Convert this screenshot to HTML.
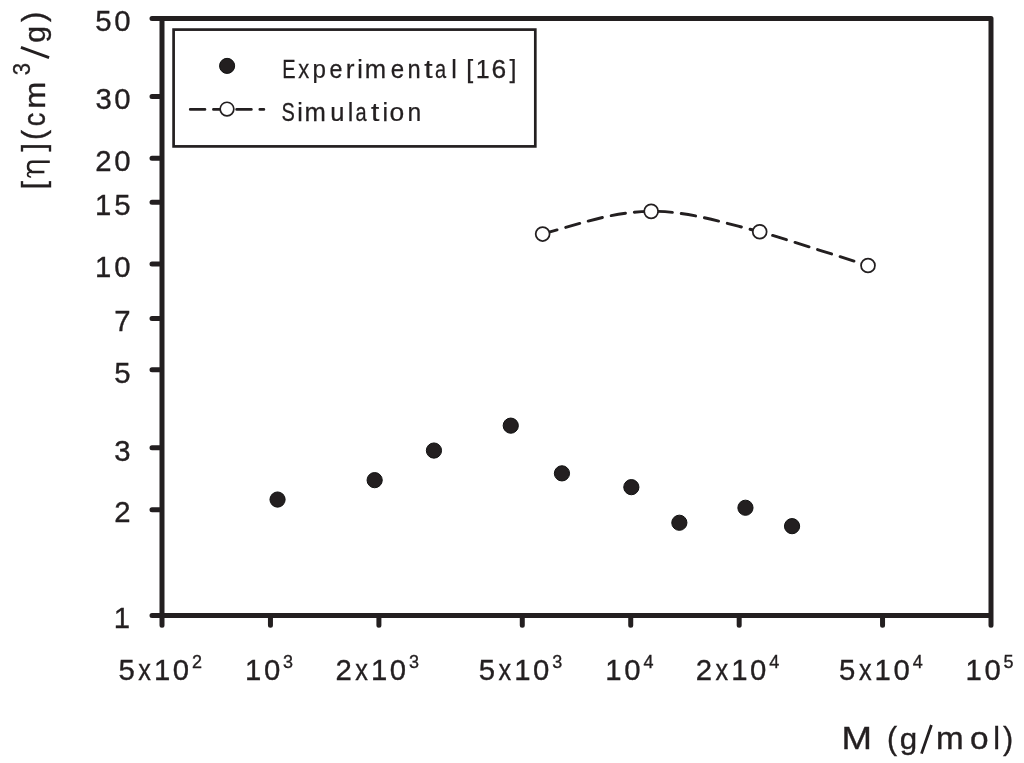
<!DOCTYPE html>
<html><head><meta charset="utf-8"><title>chart</title>
<style>
html,body{margin:0;padding:0;background:#fff;}
body{width:1024px;height:763px;overflow:hidden;}
svg{display:block;will-change:transform;}
text{font-family:"Liberation Sans", sans-serif;fill:#231f20;}
</style></head><body>
<svg width="1024" height="763" viewBox="0 0 1024 763">
<rect width="1024" height="763" fill="#fff"/>
<path d="M162.00 18.50 H991.00 V615.40 H162.00 Z M152.00 18.50 H162.00 M152.00 96.44 H162.00 M152.00 158.31 H162.00 M152.00 202.20 H162.00 M152.00 264.07 H162.00 M152.00 318.49 H162.00 M152.00 369.83 H162.00 M152.00 447.77 H162.00 M152.00 509.64 H162.00 M152.00 615.40 H162.00 M162.00 615.40 V625.30 M270.45 615.40 V625.30 M378.91 615.40 V625.30 M522.27 615.40 V625.30 M630.73 615.40 V625.30 M739.18 615.40 V625.30 M882.55 615.40 V625.30 M991.00 615.40 V625.30" fill="none" stroke="#231f20" stroke-width="5" stroke-linecap="round" stroke-linejoin="round"/>
<rect x="173.6" y="29.6" width="361.70" height="116.80" fill="none" stroke="#231f20" stroke-width="2.7"/>
<circle cx="227.1" cy="65.9" r="7.55" fill="#231f20" stroke="#111" stroke-width="1"/>
<path d="M190.3 109.4 H263.8" stroke="#231f20" stroke-width="2.9" stroke-linecap="round" stroke-dasharray="14.6 8.6" fill="none"/>
<circle cx="227" cy="109.1" r="6.85" fill="#fff" stroke="#231f20" stroke-width="1.7"/>
<text transform="translate(289.20 77.50) scale(0.800 1.000)" x="-8.84" font-size="25.00" stroke="#231f20" stroke-width="0.25">E</text>
<text transform="translate(303.65 77.50) scale(0.877 1.000)" x="-6.26" font-size="25.00" stroke="#231f20" stroke-width="0.25">x</text>
<text transform="translate(319.45 77.50) scale(0.967 1.000)" x="-7.24" font-size="25.00" stroke="#231f20" stroke-width="0.25">p</text>
<text transform="translate(335.85 77.50) scale(0.928 1.000)" x="-6.93" font-size="25.00" stroke="#231f20" stroke-width="0.25">e</text>
<text transform="translate(350.90 77.50) scale(1.052 1.000)" x="-4.79" font-size="25.00" stroke="#231f20" stroke-width="0.25">r</text>
<text transform="translate(359.95 77.50)" x="-2.76" font-size="25.00" stroke="#231f20" stroke-width="0.25">i</text>
<text transform="translate(375.40 77.50) scale(1.026 1.000)" x="-10.43" font-size="25.00" stroke="#231f20" stroke-width="0.25">m</text>
<text transform="translate(397.45 77.50) scale(0.962 1.000)" x="-6.93" font-size="25.00" stroke="#231f20" stroke-width="0.25">e</text>
<text transform="translate(414.05 77.50) scale(0.948 1.000)" x="-6.98" font-size="25.00" stroke="#231f20" stroke-width="0.25">n</text>
<text transform="translate(428.55 77.50) scale(1.200 1.000)" x="-3.58" font-size="25.00" stroke="#231f20" stroke-width="0.25">t</text>
<text transform="translate(441.00 77.50) scale(0.800 1.000)" x="-7.49" font-size="25.00" stroke="#231f20" stroke-width="0.25">a</text>
<text transform="translate(453.95 77.50)" x="-2.79" font-size="25.00" stroke="#231f20" stroke-width="0.25">l</text>
<text transform="translate(470.55 77.50)" x="-4.28" font-size="25.00" stroke="#231f20" stroke-width="0.25">[</text>
<text transform="translate(483.00 77.50)" x="-7.30" font-size="25.00" stroke="#231f20" stroke-width="0.25">1</text>
<text transform="translate(498.90 77.50) scale(1.054 1.000)" x="-7.04" font-size="25.00" stroke="#231f20" stroke-width="0.25">6</text>
<text transform="translate(512.05 77.50)" x="-2.68" font-size="25.00" stroke="#231f20" stroke-width="0.25">]</text>
<text transform="translate(288.15 120.50) scale(0.800 1.000)" x="-8.34" font-size="25.00" stroke="#231f20" stroke-width="0.25">S</text>
<text transform="translate(300.05 120.50)" x="-2.76" font-size="25.00" stroke="#231f20" stroke-width="0.25">i</text>
<text transform="translate(315.10 120.50) scale(1.026 1.000)" x="-10.43" font-size="25.00" stroke="#231f20" stroke-width="0.25">m</text>
<text transform="translate(337.35 120.50) scale(1.023 1.000)" x="-6.92" font-size="25.00" stroke="#231f20" stroke-width="0.25">u</text>
<text transform="translate(350.65 120.50)" x="-2.79" font-size="25.00" stroke="#231f20" stroke-width="0.25">l</text>
<text transform="translate(361.50 120.50) scale(0.800 1.000)" x="-7.49" font-size="25.00" stroke="#231f20" stroke-width="0.25">a</text>
<text transform="translate(375.20 120.50) scale(1.200 1.000)" x="-3.58" font-size="25.00" stroke="#231f20" stroke-width="0.25">t</text>
<text transform="translate(385.15 120.50)" x="-2.76" font-size="25.00" stroke="#231f20" stroke-width="0.25">i</text>
<text transform="translate(396.85 120.50) scale(1.057 1.000)" x="-6.96" font-size="25.00" stroke="#231f20" stroke-width="0.25">o</text>
<text transform="translate(414.25 120.50) scale(0.986 1.000)" x="-6.98" font-size="25.00" stroke="#231f20" stroke-width="0.25">n</text>
<text x="95.37 114.34" y="31.30" font-size="29.30" stroke="#231f20" stroke-width="0.35">50</text>
<text x="95.43 114.34" y="109.24" font-size="29.30" stroke="#231f20" stroke-width="0.35">30</text>
<text x="95.35 114.34" y="171.11" font-size="29.30" stroke="#231f20" stroke-width="0.35">20</text>
<text x="94.94 114.37" y="215.00" font-size="29.30" stroke="#231f20" stroke-width="0.35">15</text>
<text x="94.94 114.34" y="276.87" font-size="29.30" stroke="#231f20" stroke-width="0.35">10</text>
<text x="114.14" y="331.29" font-size="29.30" stroke="#231f20" stroke-width="0.35">7</text>
<text x="114.17" y="382.63" font-size="29.30" stroke="#231f20" stroke-width="0.35">5</text>
<text x="114.23" y="460.57" font-size="29.30" stroke="#231f20" stroke-width="0.35">3</text>
<text x="114.15" y="522.44" font-size="29.30" stroke="#231f20" stroke-width="0.35">2</text>
<text x="113.74" y="628.20" font-size="29.30" stroke="#231f20" stroke-width="0.35">1</text>
<text x="118.57" y="679.60" font-size="29.30" stroke="#231f20" stroke-width="0.35">5</text>
<text transform="translate(144.65 679.60) scale(0.862 1.000)" x="-7.34" font-size="29.30" stroke="#231f20" stroke-width="0.35">x</text>
<text x="154.04 172.84" y="679.60" font-size="29.30" stroke="#231f20" stroke-width="0.35">10</text>
<text x="192.05" y="667.70" font-size="18.00" stroke="#231f20" stroke-width="0.35">2</text>
<text x="244.90 263.94" y="679.60" font-size="29.30" stroke="#231f20" stroke-width="0.35">10</text>
<text x="283.09" y="667.70" font-size="18.00" stroke="#231f20" stroke-width="0.35">3</text>
<text x="335.46" y="679.60" font-size="29.30" stroke="#231f20" stroke-width="0.35">2</text>
<text transform="translate(361.56 679.60) scale(0.862 1.000)" x="-7.34" font-size="29.30" stroke="#231f20" stroke-width="0.35">x</text>
<text x="370.95 389.75" y="679.60" font-size="29.30" stroke="#231f20" stroke-width="0.35">10</text>
<text x="409.00" y="667.70" font-size="18.00" stroke="#231f20" stroke-width="0.35">3</text>
<text x="478.84" y="679.60" font-size="29.30" stroke="#231f20" stroke-width="0.35">5</text>
<text transform="translate(504.92 679.60) scale(0.862 1.000)" x="-7.34" font-size="29.30" stroke="#231f20" stroke-width="0.35">x</text>
<text x="514.32 533.11" y="679.60" font-size="29.30" stroke="#231f20" stroke-width="0.35">10</text>
<text x="552.36" y="667.70" font-size="18.00" stroke="#231f20" stroke-width="0.35">3</text>
<text x="605.17 624.22" y="679.60" font-size="29.30" stroke="#231f20" stroke-width="0.35">10</text>
<text x="643.39" y="667.70" font-size="18.00" stroke="#231f20" stroke-width="0.35">4</text>
<text x="695.73" y="679.60" font-size="29.30" stroke="#231f20" stroke-width="0.35">2</text>
<text transform="translate(721.83 679.60) scale(0.862 1.000)" x="-7.34" font-size="29.30" stroke="#231f20" stroke-width="0.35">x</text>
<text x="731.22 750.02" y="679.60" font-size="29.30" stroke="#231f20" stroke-width="0.35">10</text>
<text x="769.29" y="667.70" font-size="18.00" stroke="#231f20" stroke-width="0.35">4</text>
<text x="839.12" y="679.60" font-size="29.30" stroke="#231f20" stroke-width="0.35">5</text>
<text transform="translate(865.20 679.60) scale(0.862 1.000)" x="-7.34" font-size="29.30" stroke="#231f20" stroke-width="0.35">x</text>
<text x="874.59 893.39" y="679.60" font-size="29.30" stroke="#231f20" stroke-width="0.35">10</text>
<text x="912.66" y="667.70" font-size="18.00" stroke="#231f20" stroke-width="0.35">4</text>
<text x="965.44 984.49" y="679.60" font-size="29.30" stroke="#231f20" stroke-width="0.35">10</text>
<text x="1003.61" y="667.70" font-size="18.00" stroke="#231f20" stroke-width="0.35">5</text>
<text transform="translate(856.80 749.20) scale(1.200 1.001)" x="-12.70" y="0.10" font-size="30.50" stroke="#231f20" stroke-width="0.35">M</text>
<text transform="translate(892.95 749.20) scale(1.000 1.034)" x="-5.95" y="-0.51" font-size="30.50" stroke="#231f20" stroke-width="0.35">(</text>
<text transform="translate(908.05 749.20) scale(1.027 0.986)" x="-8.14" y="0.15" font-size="30.50" stroke="#231f20" stroke-width="0.35">g</text>
<text transform="translate(949.95 749.20) scale(1.088 1.000)" x="-12.72" font-size="30.50" stroke="#231f20" stroke-width="0.35">m</text>
<text transform="translate(979.20 749.20) scale(1.095 1.000)" x="-8.49" font-size="30.50" stroke="#231f20" stroke-width="0.35">o</text>
<text transform="translate(996.55 749.20) scale(1.000 1.058)" x="-3.40" font-size="30.50" stroke="#231f20" stroke-width="0.35">l</text>
<text transform="translate(1007.10 749.20) scale(1.000 1.034)" x="-4.21" y="-0.51" font-size="30.50" stroke="#231f20" stroke-width="0.35">)</text>
<text transform="translate(45.00 184.35) rotate(-90) scale(1.000 1.037)" x="-5.22" y="-0.94" font-size="30.50" stroke="#231f20" stroke-width="0.35">[</text>
<text transform="translate(45.00 148.20) rotate(-90) scale(1.000 1.037)" x="-3.26" y="-0.94" font-size="30.50" stroke="#231f20" stroke-width="0.35">]</text>
<text transform="translate(45.00 133.95) rotate(-90) scale(1.000 1.055)" x="-5.95" y="-1.01" font-size="30.50" stroke="#231f20" stroke-width="0.35">(</text>
<text transform="translate(45.00 119.15) rotate(-90) scale(0.888 1.029)" x="-7.87" y="0.28" font-size="30.50" stroke="#231f20" stroke-width="0.35">c</text>
<text transform="translate(45.00 95.30) rotate(-90) scale(1.065 0.975)" x="-12.72" y="-0.21" font-size="30.50" stroke="#231f20" stroke-width="0.35">m</text>
<text transform="translate(45.00 34.60) rotate(-90) scale(0.991 0.977)" x="-8.14" y="-0.31" font-size="30.50" stroke="#231f20" stroke-width="0.35">g</text>
<text transform="translate(45.00 17.85) rotate(-90) scale(1.000 1.052)" x="-4.21" y="-0.70" font-size="30.50" stroke="#231f20" stroke-width="0.35">)</text>
<path d="M921.5 753.6 L931.4 725.0 M20.9 47.4 L49.1 57.6" stroke="#231f20" stroke-width="2.8" fill="none"/>
<path d="M44.4 171.9 L31.2 171.9 M31.9 171.3 C28.9 170.8 27.9 168.3 28.0 166.0 C28.2 163.4 29.7 161.8 32.4 161.8 L49.8 161.8" stroke="#231f20" stroke-width="2.5" fill="none"/>
<path d="M31.5 171.9 C29.0 172.0 27.6 173.1 27.6 174.6 C27.6 175.9 28.6 176.7 30.4 177.0" stroke="#231f20" stroke-width="1.7" fill="none" stroke-linecap="round"/>
<text transform="translate(30.20 69.25) rotate(-90) scale(0.906 1.001)" x="-6.72" y="-0.04" font-size="24.40" stroke="#231f20" stroke-width="0.35">3</text>
<circle cx="277.55" cy="499.55" r="7.6" fill="#231f20" stroke="#111" stroke-width="1"/>
<circle cx="374.65" cy="480.15" r="7.6" fill="#231f20" stroke="#111" stroke-width="1"/>
<circle cx="433.95" cy="450.55" r="7.6" fill="#231f20" stroke="#111" stroke-width="1"/>
<circle cx="510.75" cy="425.65" r="7.6" fill="#231f20" stroke="#111" stroke-width="1"/>
<circle cx="561.95" cy="473.35" r="7.6" fill="#231f20" stroke="#111" stroke-width="1"/>
<circle cx="631.35" cy="487.15" r="7.6" fill="#231f20" stroke="#111" stroke-width="1"/>
<circle cx="679.35" cy="522.75" r="7.6" fill="#231f20" stroke="#111" stroke-width="1"/>
<circle cx="745.45" cy="507.75" r="7.6" fill="#231f20" stroke="#111" stroke-width="1"/>
<circle cx="792.05" cy="526.15" r="7.6" fill="#231f20" stroke="#111" stroke-width="1"/>
<path d="M542.65 234.05 C589.30 220.79 614.97 211.74 651.15 211.35 C687.33 210.96 723.56 222.68 759.70 231.70 C770.54 234.41 835.51 255.32 868.00 265.45" fill="none" stroke="#231f20" stroke-width="2.9" stroke-linecap="round" stroke-dasharray="14.6 8.925" stroke-dashoffset="-0.3"/>
<circle cx="542.65" cy="234.05" r="6.95" fill="#fff" stroke="#231f20" stroke-width="1.75"/>
<circle cx="651.15" cy="211.35" r="6.95" fill="#fff" stroke="#231f20" stroke-width="1.75"/>
<circle cx="759.70" cy="231.70" r="6.95" fill="#fff" stroke="#231f20" stroke-width="1.75"/>
<circle cx="868.00" cy="265.45" r="6.95" fill="#fff" stroke="#231f20" stroke-width="1.75"/>
</svg>
</body></html>
